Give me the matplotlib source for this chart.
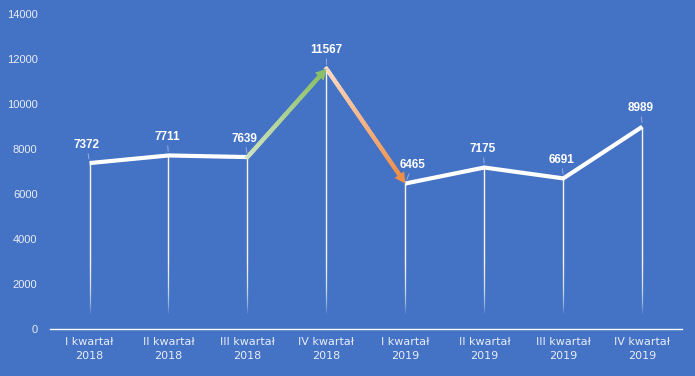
import numpy as np
import matplotlib.pyplot as plt
from matplotlib.collections import LineCollection
from matplotlib.colors import to_rgba

kwartaly = ['I kwartał\n2018', 'II kwartał\n2018', 'III kwartał\n2018', 'IV kwartał\n2018',
            'I kwartał\n2019', 'II kwartał\n2019', 'III kwartał\n2019', 'IV kwartał\n2019']
wartosci = [7372, 7711, 7639, 11567, 6465, 7175, 6691, 8989]
osie_y = [0, 2000, 4000, 6000, 8000, 10000, 12000, 14000]

# przesuniecia etykiet (w punktach)
przes_x = [-2, -1, -2, 0, 5, -1, -1, -1]

tlo = '#4472C4'
tekst = '#e8edf7'

fig = plt.figure(figsize=(6.95, 3.76), dpi=100, facecolor=tlo)
ax = fig.add_axes([0.072, 0.125, 0.909, 0.838], facecolor=tlo)
ax.set_xlim(-0.5, len(wartosci) - 0.5)
ax.set_ylim(0, 14000)
x = np.arange(len(wartosci))

# linie pionowe z zanikaniem (nakladane polprzezroczyste odcinki)
n_war = 20
alfa = 1 - 0.05 ** (1 / n_war)
for xi, v in zip(x, wartosci):
    konce = np.linspace(3200, 700, n_war)
    segs = [[(xi, v), (xi, k)] for k in konce]
    ax.add_collection(LineCollection(segs, colors=[(1, 1, 1, alfa)] * n_war, lw=0.9,
                                     capstyle='butt', zorder=1))

# glowna linia
ax.plot(x[:3], wartosci[:3], color='white', lw=3, solid_joinstyle='miter', solid_capstyle='butt', zorder=3)
ax.plot(x[4:], wartosci[4:], color='white', lw=3, solid_joinstyle='miter', solid_capstyle='butt', zorder=3)


def strzalka(i0, i1, c0, c1):
    p0 = np.array([x[i0], wartosci[i0]], dtype=float)
    p1 = np.array([x[i1], wartosci[i1]], dtype=float)
    d0 = ax.transData.transform(p0)
    d1 = ax.transData.transform(p1)
    dl = np.hypot(*(d1 - d0))
    koniec = 1 - 8 / dl
    t = np.linspace(0, koniec, 40)
    pts = p0 + np.outer(t, p1 - p0)
    segs = [[pts[k], pts[k + 1]] for k in range(len(pts) - 1)]
    a0, a1 = np.array(to_rgba(c0)), np.array(to_rgba(c1))
    cols = [a0 * (1 - tt / koniec) + a1 * (tt / koniec) for tt in t[:-1]]
    ax.add_collection(LineCollection(segs, colors=cols, lw=3, zorder=4, capstyle='projecting'))
    ax.annotate('', xy=p1, xytext=p0,
                arrowprops=dict(arrowstyle='-|>,head_length=0.55,head_width=0.3', color=c1,
                                lw=0, mutation_scale=14, shrinkA=0, shrinkB=0), zorder=5)


strzalka(2, 3, '#cfe3c0', '#8cc068')
strzalka(3, 4, '#fadbc8', '#ef8e47')

# etykiety danych
for xi, v, dx in zip(x, wartosci, przes_x):
    ax.annotate(str(v), xy=(xi, v), xytext=(dx, 9), textcoords='offset points',
                ha='center', va='bottom', fontsize=8.5, fontweight='bold', color='white',
                family='Liberation Sans', zorder=6,
                arrowprops=dict(arrowstyle='-', color='#a3b8e2', lw=0.6, shrinkA=0, shrinkB=3))

ax.set_yticks(osie_y)
ax.set_yticklabels([str(v) for v in osie_y], fontsize=8, color=tekst, family='Liberation Sans')
ax.set_xticks(x)
ax.set_xticklabels(kwartaly, fontsize=8, color=tekst, family='DejaVu Sans', linespacing=1.5)
ax.tick_params(axis='y', length=0, pad=9)
ax.tick_params(axis='x', length=0, pad=6)

for s in ['top', 'right', 'left']:
    ax.spines[s].set_visible(False)
ax.spines['bottom'].set_color('white')
ax.spines['bottom'].set_linewidth(1)

fig.savefig('out.png', dpi=100, facecolor=tlo)
